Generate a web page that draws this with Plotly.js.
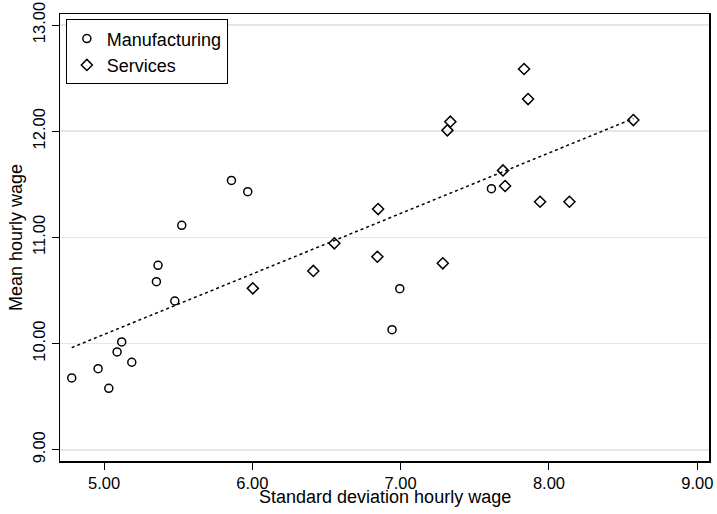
<!DOCTYPE html>
<html>
<head>
<meta charset="utf-8">
<script src="https://cdn.plot.ly/plotly-3.0.1.min.js"></script>
<style>html,body{margin:0;padding:0;background:#fff;}#chart{width:717px;height:514px;}</style>
</head>
<body>
<div id="chart"></div>
<script>
// Data
const manufSD   = [4.782, 4.960, 5.032, 5.088, 5.119, 5.187, 5.353, 5.364, 5.477, 5.524, 5.859, 5.969, 7.612, 6.994, 6.942];
const manufWage = [9.676, 9.764, 9.579, 9.921, 10.015, 9.824, 10.583, 10.737, 10.401, 11.114, 11.537, 11.431, 11.459, 10.517, 10.131];
const servSD    = [6.003, 6.411, 6.553, 6.848, 6.843, 7.284, 7.315, 7.335, 7.690, 7.704, 7.832, 7.859, 7.940, 8.138, 8.569];
const servWage  = [10.520, 10.684, 10.944, 11.267, 10.818, 10.756, 12.008, 12.090, 11.631, 11.484, 12.586, 12.303, 11.336, 11.336, 12.105];
const xTicks = [5, 6, 7, 8, 9];
const xTickLabels = ["5.00", "6.00", "7.00", "8.00", "9.00"];
const yTicks = [9, 10, 11, 12, 13];
const yTickLabels = ["9.00", "10.00", "11.00", "12.00", "13.00"];
const xTitle = "Standard deviation hourly wage";
const yTitle = "Mean hourly wage";

// Linear fit over all points
const allX = manufSD.concat(servSD);
const allY = manufWage.concat(servWage);
const n = allX.length;
const mx = allX.reduce((a, b) => a + b, 0) / n;
const my = allY.reduce((a, b) => a + b, 0) / n;
let sxy = 0, sxx = 0;
for (let i = 0; i < n; i++) { sxy += (allX[i] - mx) * (allY[i] - my); sxx += (allX[i] - mx) ** 2; }
const slope = sxy / sxx, icpt = my - slope * mx;
const xmin = Math.min(...allX), xmax = Math.max(...allX);
const fitX = [xmin, xmax];
const fitY = fitX.map(v => icpt + slope * v);

const fam = "Liberation Sans, Arial, Helvetica, sans-serif";
const titleFont = {family: fam, size: 18, color: "#000"};
const tickFont = {family: fam, size: 16.5, color: "#000"};

const traces = [
  {x: manufSD, y: manufWage, mode: "markers", type: "scatter", name: "Manufacturing",
   marker: {symbol: "circle-open", size: 8, color: "#000", line: {width: 1.5, color: "#000"}}},
  {x: servSD, y: servWage, mode: "markers", type: "scatter", name: "Services",
   marker: {symbol: "diamond-open", size: 8.5, color: "#000", line: {width: 1.5, color: "#000"}}},
  {x: fitX, y: fitY, mode: "lines", type: "scatter", showlegend: false,
   line: {color: "#000", width: 1.5, dash: "dot"}}
];

const layout = {
  width: 717, height: 514,
  margin: {l: 60, r: 8, t: 14, b: 53},
  paper_bgcolor: "#fff", plot_bgcolor: "#fff",
  font: titleFont,
  showlegend: true,
  legend: {x: 0.009, y: 0.988, xanchor: "left", yanchor: "top", bgcolor: "#fff",
           bordercolor: "#000", borderwidth: 1, font: titleFont, tracegroupgap: 0},
  xaxis: {range: [4.703, 9.079], tickvals: xTicks, ticktext: xTickLabels, ticks: "outside", ticklen: 7,
          tickwidth: 1, tickcolor: "#000", showgrid: false, zeroline: false, showline: true, linecolor: "#000",
          linewidth: 1.5, mirror: true, tickfont: tickFont},
  yaxis: {range: [8.894, 13.104], tickvals: yTicks, ticktext: yTickLabels, ticks: "outside", ticklen: 7,
          tickwidth: 1, tickcolor: "#000", showgrid: true, gridcolor: "#e6e6e6", gridwidth: 1.5,
          zeroline: false, showline: true, linecolor: "#000", linewidth: 1.5, mirror: true,
          tickangle: -90, tickfont: tickFont,
          title: {text: yTitle, font: titleFont, standoff: 2}},
  annotations: [
    {text: xTitle, xref: "paper", yref: "paper", x: 0.5015, y: -0.0805, xanchor: "center", yanchor: "middle",
     showarrow: false, borderpad: 0, font: titleFont}
  ]
};

Plotly.newPlot("chart", traces, layout, {displayModeBar: false, staticPlot: true});
</script>
</body>
</html>
